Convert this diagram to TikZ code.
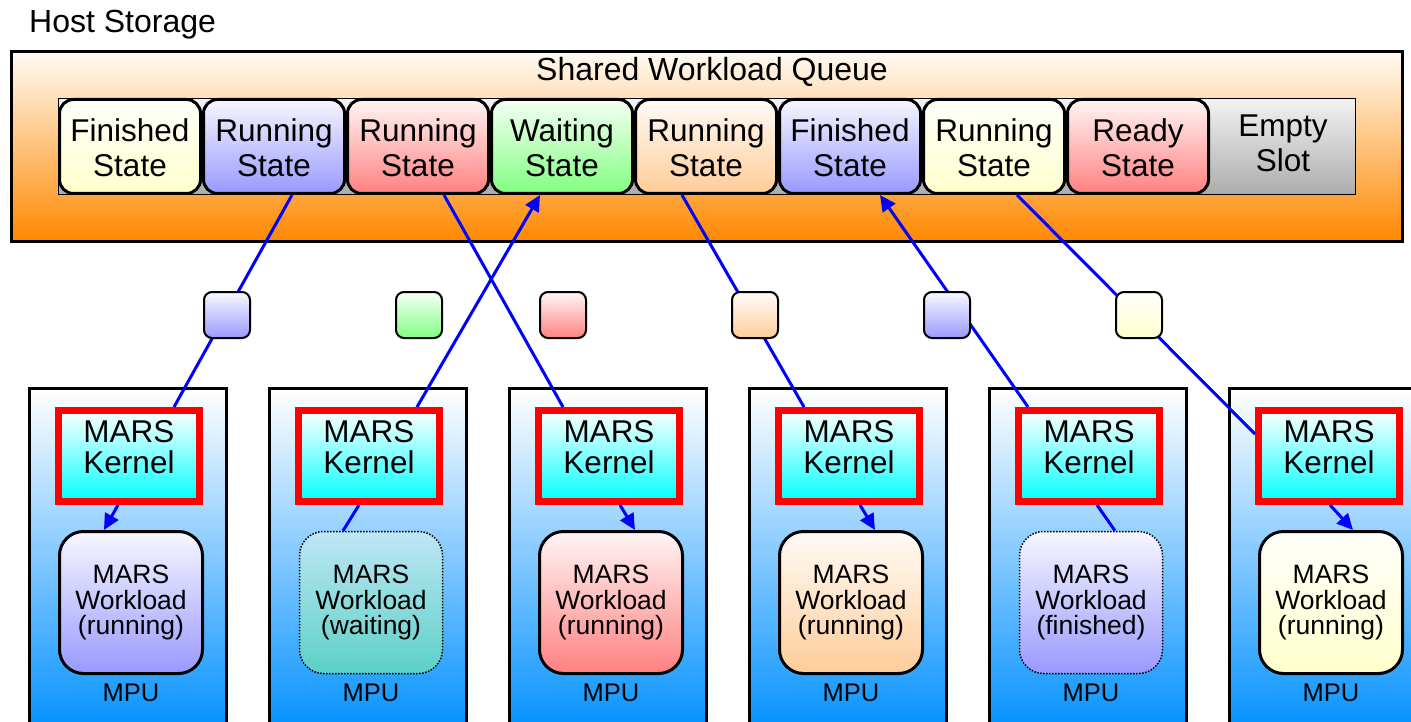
\documentclass[tikz,border=0pt]{standalone}
\usepackage{fontspec}
\setmainfont{Liberation Sans}
\usetikzlibrary{arrows.meta,calc}

\definecolor{stYellow}{HTML}{FFFFCC}
\definecolor{stBlue}{HTML}{9999FF}
\definecolor{stRed}{HTML}{FF8080}
\definecolor{stGreen}{HTML}{80FF80}
\definecolor{stPeach}{HTML}{FFCC99}
\definecolor{qTop}{HTML}{FFFBF5}
\definecolor{qBottom}{HTML}{FF8800}
\definecolor{mpuBlue}{HTML}{0090FF}
\definecolor{waitTop}{HTML}{BFE6F5}
\definecolor{waitBottom}{HTML}{5CD0C6}

\begin{document}
\begin{tikzpicture}[x=1pt, y=-1pt,
    slotbox/.style={draw, line width=3pt, rounded corners=14pt, minimum width=141pt, minimum height=94pt,
        inner sep=0pt, align=center, font=\fontsize{31.5}{35}\selectfont, text height=61pt, text depth=0pt,
        top color=#1!8, bottom color=#1},
    token/.style={draw, line width=2pt, rounded corners=8pt, minimum size=46pt, inner sep=0pt,
        top color=#1!6, bottom color=#1},
    mpu/.style={draw, line width=3pt, minimum width=197pt, minimum height=346pt, inner sep=0pt,
        top color=white, bottom color=mpuBlue},
    kernel/.style={draw=red, line width=7pt, minimum width=141pt, minimum height=91pt, inner sep=0pt,
        align=center, font=\fontsize{31.5}{31}\selectfont, text height=34pt, text depth=0pt,
        top color=white, bottom color=cyan},
    work/.style={draw, line width=3pt, rounded corners=24pt, minimum width=143pt, minimum height=142pt,
        inner sep=0pt, align=center, font=\fontsize{26.5}{25.5}\selectfont, top color=#1!8, bottom color=#1},
    idle/.style={line width=1.5pt, dash pattern=on 1.5pt off 1.5pt},
    flow/.style={draw=blue, line width=3pt},
    arrowed/.style={-{Triangle[length=16pt,width=15pt]}},
    mpulabel/.style={anchor=base, inner sep=0pt, font=\fontsize{25.5}{25.5}\selectfont}]

    \useasboundingbox (0,0) rectangle (1411,722);
    \clip (0,0) rectangle (1411,722);
    \fill[white] (0,0) rectangle (1411,722);

    % Host storage and the shared queue
    \node[anchor=base west, inner sep=0pt, font=\fontsize{32}{32}\selectfont] (host) at (29,33) {Host Storage};
    \node[draw, line width=3pt, minimum width=1391pt, minimum height=190pt, inner sep=0pt,
        top color=qTop, bottom color=qBottom] (queue) at (707,146.5) {};
    \node[anchor=base, inner sep=0pt, font=\fontsize{32}{32}\selectfont] (qtitle) at (712,81) {Shared Workload Queue};
    \node[draw, line width=1.5pt, minimum width=1297pt, minimum height=96pt, inner sep=0pt,
        top color=gray!10, bottom color=gray!65] (slots) at (707,146.5) {};

    % Queue entries
    \node[slotbox=stYellow] (s1) at (130,146.5) {Finished\\State};
    \node[slotbox=stBlue] (s2) at (274,146.5) {Running\\State};
    \node[slotbox=stRed] (s3) at (418,146.5) {Running\\State};
    \node[slotbox=stGreen] (s4) at (562,146.5) {Waiting\\State};
    \node[slotbox=stPeach] (s5) at (706,146.5) {Running\\State};
    \node[slotbox=stBlue] (s6) at (850,146.5) {Finished\\State};
    \node[slotbox=stYellow] (s7) at (994,146.5) {Running\\State};
    \node[slotbox=stRed] (s8) at (1138,146.5) {Ready\\State};
    \node[inner sep=0pt, align=center, font=\fontsize{31.5}{35}\selectfont, text height=57pt, text depth=0pt]
        (empty) at (1283,143.5) {Empty\\Slot};

    % MPUs
    \node[mpu] (m1) at (128,561.5) {};
    \node[mpu] (m2) at (368,561.5) {};
    \node[mpu] (m3) at (608,561.5) {};
    \node[mpu] (m4) at (848,561.5) {};
    \node[mpu] (m5) at (1088,561.5) {};
    \node[mpu] (m6) at (1328,561.5) {};

    \node[kernel] (k1) at (129,456) {MARS\\Kernel};
    \node[kernel] (k2) at (369,456) {MARS\\Kernel};
    \node[kernel] (k3) at (609,456) {MARS\\Kernel};
    \node[kernel] (k4) at (849,456) {MARS\\Kernel};
    \node[kernel] (k5) at (1089,456) {MARS\\Kernel};
    \node[kernel] (k6) at (1329,456) {MARS\\Kernel};

    \node[work=stBlue] (w1) at (131,602.5) {MARS\\Workload\\(running)};
    \node[work=stBlue, idle, top color=waitTop, bottom color=waitBottom] (w2) at (371,602.5) {MARS\\Workload\\(waiting)};
    \node[work=stRed] (w3) at (611,602.5) {MARS\\Workload\\(running)};
    \node[work=stPeach] (w4) at (851,602.5) {MARS\\Workload\\(running)};
    \node[work=stBlue, idle] (w5) at (1091,602.5) {MARS\\Workload\\(finished)};
    \node[work=stYellow] (w6) at (1331,602.5) {MARS\\Workload\\(running)};

    \node[mpulabel] (l1) at (131,701) {MPU};
    \node[mpulabel] (l2) at (371,701) {MPU};
    \node[mpulabel] (l3) at (611,701) {MPU};
    \node[mpulabel] (l4) at (851,701) {MPU};
    \node[mpulabel] (l5) at (1091,701) {MPU};
    \node[mpulabel] (l6) at (1331,701) {MPU};

    % Queue <-> kernel traffic
    \draw[flow] ($(s2.south)+(18,0)$) -- ($(k1.north)+(45,0)$);
    \draw[flow, arrowed] ($(k2.north)+(48,0)$) -- ($(s4.south)+(-22,0)$);
    \draw[flow] ($(s3.south)+(26,0)$) -- ($(k3.north)+(-46,0)$);
    \draw[flow] ($(s5.south)+(-24,0)$) -- ($(k4.north)+(-45,0)$);
    \draw[flow, arrowed] ($(k5.north)+(-61,0)$) -- ($(s6.south)+(30,0)$);
    \draw[flow] ($(s7.south)+(23,0)$) -- ($(k6.north west)+(0,27)$);

    % Kernel -> workload
    \draw[flow, arrowed] ($(k1.south)+(-11,0)$) -- ($(w1.north)+(-27,0)$);
    \draw[flow] ($(k2.south)+(-10,0)$) -- ($(w2.north)+(-28,0)$);
    \draw[flow, arrowed] ($(k3.south)+(11,0)$) -- ($(w3.north)+(24,0)$);
    \draw[flow, arrowed] ($(k4.south)+(11,0)$) -- ($(w4.north)+(24,0)$);
    \draw[flow] ($(k5.south)+(8,0)$) -- ($(w5.north)+(24,0)$);
    \draw[flow, arrowed] ($(k6.south)+(1,0)$) -- ($(w6.north)+(22,0)$);

    % Workload contexts in transit
    \node[token=stBlue] (t1) at (227,315) {};
    \node[token=stGreen] (t2) at (419,315) {};
    \node[token=stRed] (t3) at (563,315) {};
    \node[token=stPeach] (t4) at (755,315) {};
    \node[token=stBlue] (t5) at (947,315) {};
    \node[token=stYellow] (t6) at (1139,315) {};
\end{tikzpicture}
\end{document}
